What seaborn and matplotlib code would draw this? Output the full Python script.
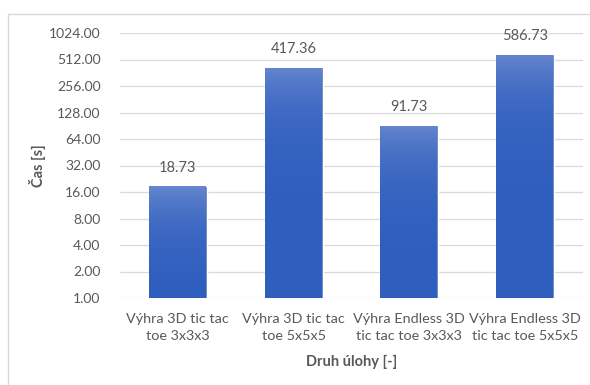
import numpy as np
import pandas as pd
import seaborn as sns
import matplotlib.pyplot as plt
from matplotlib.patches import Rectangle
from matplotlib.colors import LinearSegmentedColormap

categories = ["Výhra 3D tic tac\ntoe 3x3x3", "Výhra 3D tic tac\ntoe 5x5x5",
              "Výhra Endless 3D\ntic tac toe 3x3x3", "Výhra Endless 3D\ntic tac toe 5x5x5"]
times = [18.73, 417.36, 91.73, 586.73]
yticks = [1, 2, 4, 8, 16, 32, 64, 128, 256, 512, 1024]

df = pd.DataFrame({"uloha": categories, "cas": times})

sns.set_style("white")
plt.rcParams["font.family"] = ["Lato", "DejaVu Sans"]
txt = "#595959"

fig = plt.figure(figsize=(5.9, 3.85), dpi=100)
ax = fig.add_axes([120 / 590, 1 - 298 / 385, 463 / 590, 265 / 385])

sns.barplot(data=df, x="uloha", y="cas", color="#4472C4", width=0.5, ax=ax, zorder=2)
ax.set_yscale("log", base=2)
ax.set_ylim(1, 1024)
ax.set_yticks(yticks)
ax.set_yticklabels([f"{v:.2f}" for v in yticks], color=txt, fontsize=10)
ax.minorticks_off()
ax.tick_params(axis="x", colors=txt, labelsize=10.4, length=0, pad=11)
for lbl in ax.get_xticklabels():
    lbl.set_linespacing(1.5)
ax.tick_params(axis="y", length=0, pad=14)
ax.grid(axis="y", color="#D9D9D9", linewidth=0.9, zorder=0)
for s in ax.spines.values():
    s.set_visible(False)
ax.set_xlabel("Druh úlohy [-]", color=txt, fontsize=10.5, fontweight="bold", labelpad=9)
ax.set_ylabel("Čas [s]", color=txt, fontsize=10.5, fontweight="bold", labelpad=2)

# gradient fill inside the bars
cmap = LinearSegmentedColormap.from_list("g", ["#2E5EBE", "#6787CE"])
grad = np.linspace(0, 1, 256).reshape(-1, 1)
for bar, v in zip(ax.patches, times):
    x0 = bar.get_x()
    w = bar.get_width()
    im = ax.imshow(grad, cmap=cmap, origin="lower", aspect="auto",
                   extent=[x0, x0 + w, 1, v], zorder=3)
    im.set_clip_path(bar)
    ax.annotate(f"{v:.2f}", (x0 + w / 2, v), xytext=(0, 8), textcoords="offset points",
                ha="center", va="bottom", color=txt, fontsize=10.5)
ax.set_xlim(-0.5, 3.5)
ax.set_ylim(1, 1024)

fig.patches.append(Rectangle((8 / 590, -0.1), 1.1, 1 - 14 / 385 + 0.1, transform=fig.transFigure,
                             fill=False, edgecolor="#D9D9D9", linewidth=1))

fig.savefig("out.png", dpi=100)
